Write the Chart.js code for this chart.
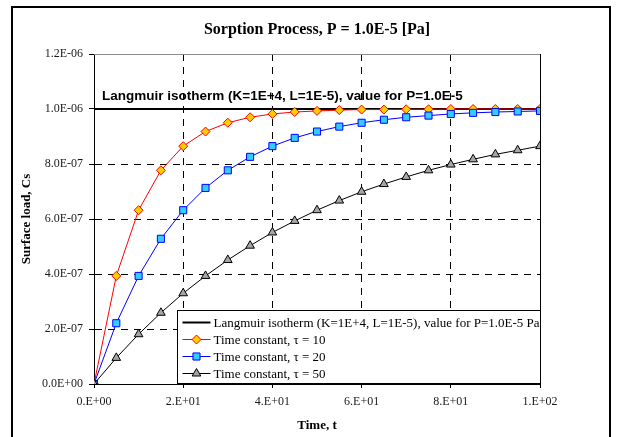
<!DOCTYPE html>
<html>
<head>
<meta charset="utf-8">
<title>Sorption Process</title>
<script src="https://cdn.jsdelivr.net/npm/chart.js@4.4.0/dist/chart.umd.min.js"></script>
<style>
  html, body { margin: 0; padding: 0; background: #fff; }
  canvas { display: block; }
</style>
</head>
<body>
<canvas id="chart" width="618" height="437"></canvas>
<script>
// Time samples, t
const times = [0, 5, 10, 15, 20, 25, 30, 35, 40, 45, 50, 55, 60, 65, 70, 75, 80, 85, 90, 95, 100];

// Surface load Cs for each time constant
const loadTau10 = [0, 3.93e-7, 6.32e-7, 7.77e-7, 8.65e-7, 9.18e-7, 9.50e-7, 9.70e-7, 9.82e-7, 9.89e-7, 9.93e-7,
                   9.96e-7, 9.98e-7, 9.98e-7, 9.99e-7, 9.99e-7, 1.0e-6, 1.0e-6, 1.0e-6, 1.0e-6, 1.0e-6];
const loadTau20 = [0, 2.21e-7, 3.93e-7, 5.28e-7, 6.32e-7, 7.13e-7, 7.77e-7, 8.26e-7, 8.65e-7, 8.95e-7, 9.18e-7,
                   9.36e-7, 9.50e-7, 9.61e-7, 9.70e-7, 9.76e-7, 9.82e-7, 9.86e-7, 9.89e-7, 9.91e-7, 9.93e-7];
const loadTau50 = [0, 0.95e-7, 1.81e-7, 2.59e-7, 3.30e-7, 3.93e-7, 4.51e-7, 5.03e-7, 5.51e-7, 5.93e-7, 6.32e-7,
                   6.67e-7, 6.99e-7, 7.27e-7, 7.53e-7, 7.77e-7, 7.98e-7, 8.17e-7, 8.35e-7, 8.50e-7, 8.65e-7];

// Langmuir equilibrium load (K=1E+4, L=1E-5) at P=1.0E-5
const langmuirTimes = [0, 100];
const langmuirLoad = [1.0e-6, 1.0e-6];

// Axis ticks
const xTickValues = [0, 20, 40, 60, 80, 100];
const yTickValues = [0, 2e-7, 4e-7, 6e-7, 8e-7, 1.0e-6, 1.2e-6];

const seriesLabels = [
  'Langmuir isotherm (K=1E+4, L=1E-5), value for P=1.0E-5 Pa',
  'Time constant, \u03c4 = 10',
  'Time constant, \u03c4 = 20',
  'Time constant, \u03c4 = 50'
];
const chartTitle = 'Sorption Process, P = 1.0E-5 [Pa]';
const xTitle = 'Time, t';
const yTitle = 'Surface load, Cs';
const noteText = 'Langmuir isotherm (K=1E+4, L=1E-5), value for P=1.0E-5';

const SERIF = '"Liberation Serif", "Times New Roman", serif';
const SANS = '"Liberation Sans", Arial, sans-serif';

const toPoints = (xs, ys) => xs.map((t, i) => ({ x: t, y: ys[i] }));

// Excel-like scientific notation: 2.E+01, 1.2E-06
function sci(value, digits) {
  const s = Number(value).toExponential(digits);
  const [mant, exp] = s.split('e');
  const n = parseInt(exp, 10);
  const m = digits === 0 ? mant + '.' : mant;
  return m + 'E' + (n < 0 ? '-' : '+') + String(Math.abs(n)).padStart(2, '0');
}

const styles = [
  { color: '#000000', fill: '#000000', point: false, width: 2 },
  { color: '#ff0000', fill: '#ffcc00', point: 'rectRot', radius: 4.5, width: 1 },
  { color: '#0000ff', fill: '#33ccff', point: 'rect', radius: 5, width: 1 },
  { color: '#000000', fill: '#a6a6a6', point: 'triangle', radius: 5, width: 1 }
];

function marker(ctx, style, x, y, r) {
  ctx.beginPath();
  if (style === 'rectRot') {
    ctx.moveTo(x, y - r); ctx.lineTo(x + r, y); ctx.lineTo(x, y + r); ctx.lineTo(x - r, y);
  } else if (style === 'rect') {
    const s = Math.SQRT1_2 * r;
    ctx.rect(x - s, y - s, 2 * s, 2 * s);
  } else if (style === 'triangle') {
    const w = r * Math.sqrt(3) / 2;
    ctx.moveTo(x - w, y + r / 2); ctx.lineTo(x, y - r); ctx.lineTo(x + w, y + r / 2);
  }
  ctx.closePath();
  ctx.fill();
  ctx.stroke();
}

const decor = {
  id: 'decor',
  beforeDraw(chart) {
    const c = chart.ctx;
    c.save();
    c.fillStyle = '#fff';
    c.fillRect(0, 0, chart.width, chart.height);
    c.restore();
  },
  beforeDatasetsDraw(chart) {
    const { ctx, chartArea: a } = chart;
    ctx.save();
    ctx.lineWidth = 1;
    ctx.strokeStyle = '#8c8c8c';
    ctx.beginPath();
    ctx.moveTo(a.left, Math.round(a.top) + 0.5);
    ctx.lineTo(a.right, Math.round(a.top) + 0.5);
    ctx.stroke();
    ctx.strokeStyle = '#000';
    ctx.beginPath();
    ctx.moveTo(Math.round(a.right) + 0.5, a.top);
    ctx.lineTo(Math.round(a.right) + 0.5, a.bottom);
    ctx.stroke();
    ctx.restore();
  },
  afterDraw(chart) {
    const { ctx, chartArea: a, scales } = chart;
    const ys = scales.y;
    ctx.save();

    // outer frame
    ctx.strokeStyle = '#000';
    ctx.lineWidth = 2;
    ctx.strokeRect(12, 7, 598, 440);

    // titles
    ctx.fillStyle = '#000';
    ctx.textAlign = 'center';
    ctx.textBaseline = 'middle';
    ctx.font = 'bold 16px ' + SERIF;
    ctx.fillText(chartTitle, (a.left + a.right) / 2, 30);
    ctx.font = 'bold 13px ' + SERIF;
    ctx.fillText(xTitle, (a.left + a.right) / 2, 426);
    ctx.save();
    ctx.translate(27, (a.top + a.bottom) / 2);
    ctx.rotate(-Math.PI / 2);
    ctx.fillText(yTitle, 0, 0);
    ctx.restore();

    // note above the equilibrium line
    ctx.textAlign = 'left';
    ctx.font = 'bold 13.5px ' + SANS;
    ctx.fillText(noteText, a.left + 8, ys.getPixelForValue(langmuirLoad[0]) - 13);

    // legend box in the lower right of the plot
    const bw = 363, bh = 73;
    const bx = Math.round(a.right) - bw + 0.5;
    const by = Math.round(a.bottom) - bh - 0.5;
    ctx.fillStyle = '#fff';
    ctx.fillRect(bx, by, bw, bh);
    ctx.strokeStyle = '#000';
    ctx.lineWidth = 1;
    ctx.strokeRect(bx, by, bw, bh);
    ctx.font = '13px ' + SERIF;
    ctx.textBaseline = 'middle';
    for (let i = 0; i < seriesLabels.length; i++) {
      const st = styles[i];
      const ry = by + 12 + i * 17;
      ctx.strokeStyle = st.color;
      ctx.lineWidth = st.width;
      ctx.beginPath();
      ctx.moveTo(bx + 5, ry);
      ctx.lineTo(bx + 33, ry);
      ctx.stroke();
      if (st.point) {
        ctx.fillStyle = st.fill;
        ctx.lineWidth = 1;
        marker(ctx, st.point, bx + 19, ry, st.radius);
      }
      ctx.fillStyle = '#000';
      ctx.fillText(seriesLabels[i], bx + 36, ry + 1);
    }
    ctx.restore();
  }
};

const seriesData = [
  toPoints(langmuirTimes, langmuirLoad),
  toPoints(times, loadTau10),
  toPoints(times, loadTau20),
  toPoints(times, loadTau50)
];

const datasets = seriesData.map((data, i) => {
  const st = styles[i];
  return {
    label: seriesLabels[i],
    data,
    borderColor: st.color,
    borderWidth: st.width,
    backgroundColor: st.fill,
    pointStyle: st.point || 'circle',
    pointRadius: st.point ? st.radius : 0,
    pointBorderWidth: 1,
    pointBorderColor: st.color,
    pointBackgroundColor: st.fill,
    tension: 0,
    fill: false,
    order: 4 - i
  };
});

const tickFont = { family: SERIF, size: 12 };
const DASH = [7, 6];

new Chart(document.getElementById('chart'), {
  type: 'line',
  data: { datasets },
  options: {
    responsive: false,
    animation: false,
    devicePixelRatio: 1,
    layout: { padding: { top: 54, right: 78, left: 0, bottom: 0 } },
    plugins: { legend: { display: false }, tooltip: { enabled: false }, title: { display: false } },
    scales: {
      x: {
        type: 'linear',
        min: 0, max: 100,
        afterBuildTicks: s => { s.ticks = xTickValues.map(v => ({ value: v })); },
        afterFit: s => { s.height = 53; },
        ticks: {
          font: tickFont, color: '#1a1a1a', padding: 7, maxRotation: 0, autoSkip: false,
          callback: v => sci(v, 0)
        },
        grid: {
          color: c => (c.tick && (c.tick.value === 0 || c.tick.value === 100)) ? 'rgba(0,0,0,0)' : '#000',
          lineWidth: 1,
          tickColor: '#000', tickLength: 4, tickWidth: 1, tickBorderDash: []
        },
        // border.dash sets the dash pattern of the grid lines
        border: { display: true, color: '#000', width: 1, dash: DASH }
      },
      y: {
        type: 'linear',
        min: 0, max: 1.2e-6,
        afterBuildTicks: s => { s.ticks = yTickValues.map(v => ({ value: v })); },
        afterFit: s => { s.width = 94; },
        ticks: {
          font: tickFont, color: '#1a1a1a', padding: 6, autoSkip: false,
          callback: v => sci(v, 1)
        },
        grid: {
          color: c => (c.tick && (c.tick.value === 0 || c.tick.value >= 1.2e-6)) ? 'rgba(0,0,0,0)' : '#000',
          lineWidth: 1,
          tickColor: '#000', tickLength: 5, tickWidth: 1, tickBorderDash: []
        },
        border: { display: true, color: '#000', width: 1, dash: DASH }
      }
    }
  },
  plugins: [decor]
});
</script>
</body>
</html>
